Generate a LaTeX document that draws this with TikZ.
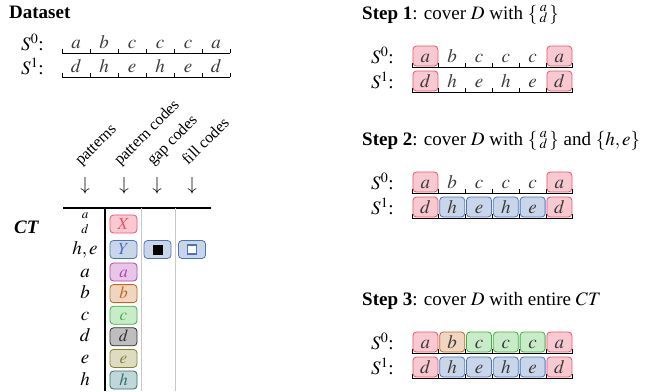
\documentclass[tikz,border=0pt]{standalone}
\usepackage{amsmath}
\usepackage{mathptmx}
\usepackage[no-math]{fontspec}
\setmainfont{Liberation Serif}
\usetikzlibrary{positioning}

% colori dei codici
\definecolor{redline}{HTML}{E8556A}   \definecolor{redfill}{HTML}{F9C9D1}
\definecolor{blueline}{HTML}{4A74BE}  \definecolor{bluefill}{HTML}{C9D6EA}
\definecolor{purpline}{HTML}{B23FB4}  \definecolor{purpfill}{HTML}{E8C6E8}
\definecolor{orngline}{HTML}{C2651F}  \definecolor{orngfill}{HTML}{F0D6C1}
\definecolor{grnline}{HTML}{3FAE46}   \definecolor{grnfill}{HTML}{C8EBC8}
\definecolor{grayline}{HTML}{2E2E2E}  \definecolor{grayfill}{HTML}{BEBEBE}
\definecolor{oliveline}{HTML}{84822A} \definecolor{olivefill}{HTML}{DEDCC0}
\definecolor{tealline}{HTML}{2F6E6C}  \definecolor{tealfill}{HTML}{BFD7D6}
\definecolor{celltext}{HTML}{3A3A3A}
\definecolor{rulegray}{HTML}{C8C8C8}

\tikzset{
  cell/.style={rectangle, rounded corners=3.5pt, minimum width=25pt, minimum height=20pt,
    inner sep=0pt, line width=0.8pt, text height=12pt, text depth=0pt, text=celltext},
  code/.style={cell, minimum width=27pt, minimum height=18pt, text height=10pt,
    font=\fontsize{17}{20}\selectfont},
  plain/.style={},
  cred/.style={draw=redline, fill=redfill},
  cblue/.style={draw=blueline, fill=bluefill},
  cpurp/.style={draw=purpline, fill=purpfill},
  corng/.style={draw=orngline, fill=orngfill},
  cgrn/.style={draw=grnline, fill=grnfill},
  cgray/.style={draw=grayline, fill=grayfill},
  colive/.style={draw=oliveline, fill=olivefill},
  cteal/.style={draw=tealline, fill=tealfill},
  pat/.style={inner sep=0pt, text height=10pt, text depth=0pt},
  head/.style={rotate=45, anchor=base west, inner sep=0pt, font=\fontsize{16}{18}\selectfont},
}

% linea di base di una sequenza: x0, y, larghezza cella
\newcommand{\seqbase}[3]{%
  \draw[line width=0.9pt] (#1,#2) -- ++(6*#3,0);
  \foreach \k in {0,...,6}
    \draw[line width=0.9pt] (#1+\k*#3,#2) -- ++(0,-4);
}
% riga di una sequenza: x0, y, larghezza cella, lettere/stili, prefisso
\newcommand{\seqrow}[5]{%
  \seqbase{#1}{#2}{#3}
  \foreach [count=\i] \l/\s in {#4}
    \node[cell,\s] (#5\i) at (#1+\i*#3-0.5*#3,#2-11) {$\l$};
}

\begin{document}
\begin{tikzpicture}[x=1pt, y=-1pt, font=\fontsize{19}{22}\selectfont]
  \useasboundingbox (0,0) rectangle (672,391);

  % Dataset
  \node[anchor=base west, inner sep=0pt] (dstitle) at (9,18) {\textbf{Dataset}};
  \node[anchor=base west, inner sep=0pt] (dsS0) at (21,50) {$S^0$:};
  \node[anchor=base west, inner sep=0pt] (dsS1) at (21,74) {$S^1$:};
  \seqrow{62}{53}{28}{a/plain,b/plain,c/plain,c/plain,c/plain,a/plain}{dsa}
  \seqrow{62}{77}{28}{d/plain,h/plain,e/plain,h/plain,e/plain,d/plain}{dsb}

  % intestazioni della tabella
  \foreach \x/\t [count=\j] in {85/patterns,124/pattern codes,157/gap codes,192/fill codes} {
    \node[head] (hd\j) at (\x-4,166) {\t};
    \node[inner sep=0pt] (ar\j) at (\x,186) {$\downarrow$};
  }

  % CT
  \node[anchor=base west, inner sep=0pt] (ctlabel) at (14,233) {\textbf{\textit{CT}}};
  \draw[line width=2.2pt] (63,208) -- (211,208);
  \draw[rulegray, line width=0.8pt] (141,208) -- (141,391);
  \draw[rulegray, line width=0.8pt] (175,208) -- (175,391);
  \draw[line width=2.4pt] (105,208) -- (105,391);

  % pattern e codici
  \node[align=center, inner sep=0pt, font=\fontsize{13}{15.5}\selectfont] (patad) at (85,223) {$a$\\$d$};
  \node[pat] (pathe) at (85,249) {$h,e$};
  \node[code,cred,text=redline] (codeX) at (123.5,224) {$X$};
  \node[code,cblue,text=blueline] (codeY) at (123.5,249.5) {$Y$};
  \node[code,cblue] (gapY) at (157.5,249.5) {};
  \node[code,cblue] (fillY) at (192,249.5) {};
  \fill[black, draw=black] ([xshift=-4.5pt,yshift=-4.5pt]gapY.center) rectangle ([xshift=4.5pt,yshift=4.5pt]gapY.center);
  \filldraw[fill=white, draw=blueline, line width=1.2pt] ([xshift=-4.5pt,yshift=-4.5pt]fillY.center) rectangle ([xshift=4.5pt,yshift=4.5pt]fillY.center);
  \foreach \l/\s/\c [count=\r from 0] in {a/cpurp/purpline,b/corng/orngline,c/cgrn/grnline,
      d/cgray/grayline,e/colive/oliveline,h/cteal/tealline} {
    \node[pat] (pat\l) at (85,272+21.6*\r) {$\l$};
    \node[code,\s,text=\c] (code\l) at (123.5,272+21.6*\r) {$\l$};
  }

  % Step 1
  \node[anchor=base west, inner sep=0pt] (st1) at (362,19) {\textbf{Step 1}: cover $D$ with $\{\,\substack{a\\ d}\,\}$};
  \node[anchor=base west, inner sep=0pt] (st1S0) at (371,63) {$S^0$:};
  \node[anchor=base west, inner sep=0pt] (st1S1) at (371,88) {$S^1$:};
  \seqrow{412}{67}{26.8}{a/cred,b/plain,c/plain,c/plain,c/plain,a/cred}{sa}
  \seqrow{412}{92}{26.8}{d/cred,h/plain,e/plain,h/plain,e/plain,d/cred}{sb}

  % Step 2
  \node[anchor=base west, inner sep=0pt] (st2) at (362,145) {\textbf{Step 2}: cover $D$ with $\{\,\substack{a\\ d}\,\}$ and $\{h,e\}$};
  \node[anchor=base west, inner sep=0pt] (st2S0) at (371,189) {$S^0$:};
  \node[anchor=base west, inner sep=0pt] (st2S1) at (371,214) {$S^1$:};
  \seqrow{412}{193}{26.8}{a/cred,b/plain,c/plain,c/plain,c/plain,a/cred}{ta}
  \seqrow{412}{218}{26.8}{d/cred,h/cblue,e/cblue,h/cblue,e/cblue,d/cred}{tb}

  % Step 3
  \node[anchor=base west, inner sep=0pt] (st3) at (362,305) {\textbf{Step 3}: cover $D$ with entire $CT$};
  \node[anchor=base west, inner sep=0pt] (st3S0) at (371,349) {$S^0$:};
  \node[anchor=base west, inner sep=0pt] (st3S1) at (371,374) {$S^1$:};
  \seqrow{412}{353}{26.8}{a/cred,b/corng,c/cgrn,c/cgrn,c/cgrn,a/cred}{ua}
  \seqrow{412}{378}{26.8}{d/cred,h/cblue,e/cblue,h/cblue,e/cblue,d/cred}{ub}
\end{tikzpicture}
\end{document}
